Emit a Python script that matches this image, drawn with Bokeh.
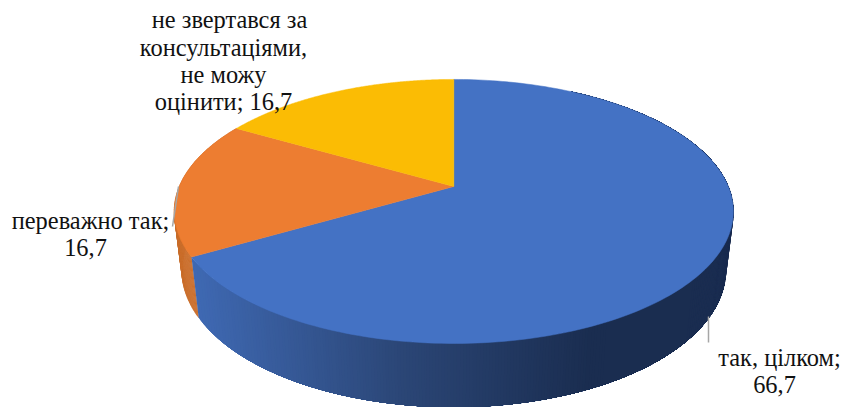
import numpy as np
from bokeh.plotting import figure
from bokeh.embed import file_html
from bokeh.resources import INLINE
from bokeh.core.properties import value

categories = ["так, цілком", "переважно так", "не звертався за консультаціями, не можу оцінити"]
values = [66.7, 16.7, 16.7]
top_colors = ["#4472C4", "#ED7D31", "#FBBC04"]
label_lines = [
    ("так, цілком;", 779, 357),
    ("66,7", 774, 384),
    ("переважно так;", 90, 220),
    ("16,7", 85, 247),
    ("не звертався за", 229, 19),
    ("консультаціями,", 223, 47),
    ("не можу", 223, 74),
    ("оцінити; 16,7", 223, 101),
]

CX = 453.3
def top_pt(t):
    x, y = np.sin(t), np.cos(t)
    d = 1 + 0.189 * y
    return CX + 274.5 * x / d, 186 - 127.3 * y / d

def base_pt(t):
    x, y = np.sin(t), np.cos(t)
    d = 1 + 0.189 * y
    return CX + 267 * x / d, 244 - 132 * y / d

def lerp(c0, c1, f):
    return tuple(a + (b - a) * f for a, b in zip(c0, c1))

def hexc(c):
    return "#%02X%02X%02X" % tuple(int(round(v)) for v in c)

def blue_wall(x):
    if x < 400:
        return hexc(lerp((0x3F, 0x69, 0xB3), (0x2B, 0x46, 0x76), max(0, (x - 190) / 210)))
    return hexc(lerp((0x2B, 0x46, 0x76), (0x1A, 0x2D, 0x50), min(1, (x - 400) / 190)))

p = figure(width=843, height=407, x_range=(0, 843), y_range=(407, 0),
           output_backend="svg", toolbar_location=None, min_border=0)
p.axis.visible = False
p.grid.visible = False
p.outline_line_color = None

total = sum(values)
edges = np.concatenate([[0], np.cumsum(values)]) / total * 2 * np.pi

def wall(t0, t1, col):
    ts = np.linspace(t0, t1, 160)
    tx, ty = top_pt(ts)
    bx, by = base_pt(ts)
    p.patch(np.r_[tx, bx[::-1]], np.r_[ty, by[::-1]], fill_color=col, line_color=None)

def quads(t0, t1, col):
    # rim-to-base quads, which also fill the silhouette between the two arcs
    ts = np.linspace(t0, t1, 90)
    xs, ys = [], []
    for a, b in zip(ts[:-1], ts[1:]):
        ax, ay = top_pt(a); bx, by = top_pt(b)
        cx, cy = base_pt(b); dx, dy = base_pt(a)
        xs.append([ax, bx, cx, dx]); ys.append([ay, by, cy, dy])
    p.patches(xs, ys, fill_color=col, line_color=col, line_width=0.5)

# orange side wall
quads(edges[1], edges[2], "#CB6F2D")

# blue side wall: painted left to right, each band covering everything to its right
front_end = edges[1]
back_end = np.radians(30)
for x_band in np.arange(190, 610, 3):
    ts = np.linspace(back_end, front_end, 800)
    tx, _ = top_pt(ts)
    idx = np.where((tx <= x_band) & (ts > np.pi / 2))[0]
    t_band = ts[idx[0]] if len(idx) else front_end
    if x_band == 190:
        t_band = front_end
    wall(back_end, t_band, blue_wall(x_band))
quads(np.radians(60), np.radians(130), blue_wall(700))

# top face
for i, col in enumerate(top_colors):
    ts = np.linspace(edges[i], edges[i + 1], 200)
    xs, ys = top_pt(ts)
    p.patch(np.r_[CX, xs], np.r_[186, ys], fill_color=col, line_color=col, line_width=0.5)

# leader lines
p.line([708, 708], [316, 342], line_color="#A6A6A6", line_width=1.5)
p.line([172, 178], [226, 186], line_color="#A6A6A6", line_width=1.5)

for txt, x, y in label_lines:
    p.text([x], [y], text=[txt], text_font=value("Liberation Serif"), text_font_size="24.4px",
           text_align="center", text_baseline="middle", text_color="#111111")

open("out.html", "w").write(file_html(p, INLINE))
